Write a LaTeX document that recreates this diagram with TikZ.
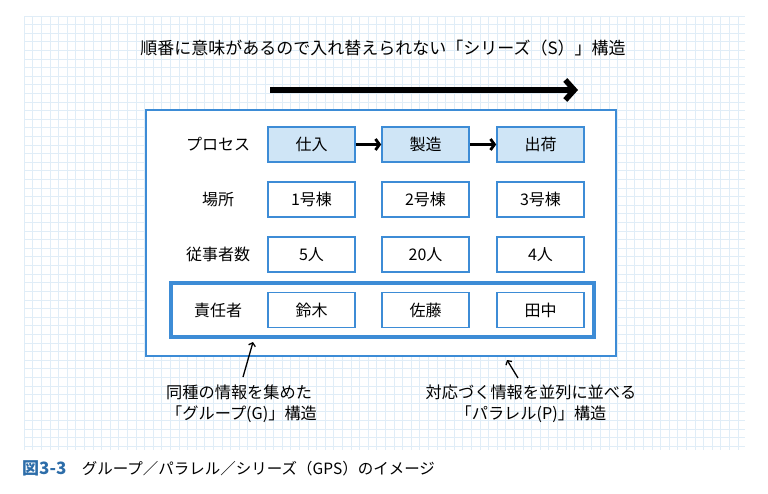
\documentclass[tikz,border=0pt]{standalone}
\usepackage{fontspec}
\setmainfont{Noto Sans CJK JP}
\usetikzlibrary{arrows.meta, positioning, calc}

\definecolor{gridblue}{HTML}{E0EDF7}
\definecolor{boxblue}{HTML}{3D8CD6}
\definecolor{cellfill}{HTML}{CFE5F6}
\definecolor{capblue}{HTML}{2D6DA9}

\tikzset{
  cell/.style={draw=boxblue, line width=1.6, fill=white, minimum width=87,
    minimum height=35, inner sep=0pt, font=\fontsize{16}{18}\selectfont},
  proc/.style={cell, fill=cellfill},
  rowlabel/.style={inner sep=0pt, font=\fontsize{16}{18}\selectfont},
  note/.style={inner sep=0pt, font=\fontsize{16.2}{21}\selectfont},
  flow/.style={line width=2.8, -{Straight Barb[length=4, width=11]}},
  pointer/.style={line width=1.3, -{Straight Barb[length=3, width=7]}}
}

\begin{document}
\begin{tikzpicture}[x=1pt, y=-1pt]
\def\colA{311.5}
\def\colB{425.5}
\def\colC{540.5}
\def\labx{218}

\useasboundingbox (0,0) rectangle (768,494);

% background grid
\foreach \gx in {24,32.6,...,746} \draw[gridblue, line width=0.6] (\gx,16) -- (\gx,450);
\foreach \gy in {16,24.6,...,451} \draw[gridblue, line width=0.6] (24,\gy) -- (745,\gy);

\node[font=\fontsize{17}{20}\selectfont] (title) at (383,48)
  {順番に意味があるので入れ替えられない「シリーズ（S）」構造};

\coordinate (sstart) at (270,90);
\coordinate (send) at (578,90);
\draw[line width=6, -{Straight Barb[length=9, width=20, line width=5.5]}] (sstart) -- (send);

\node[draw=boxblue, line width=2, fill=white, minimum width=470, minimum height=246] (table) at (381,233) {};
\node[draw=boxblue, line width=4.5, minimum width=423, minimum height=54] (group) at (382.5,310) {};

% rows
\node[rowlabel] (lproc) at (\labx,144.5) {プロセス};
\node[proc] (p1) at (\colA,144.5) {仕入};
\node[proc] (p2) at (\colB,144.5) {製造};
\node[proc] (p3) at (\colC,144.5) {出荷};
\draw[flow] (p1) -- (p2);
\draw[flow] (p2) -- (p3);

\node[rowlabel] (lplace) at (\labx,199.5) {場所};
\node[cell] (b1) at (\colA,199.5) {1号棟};
\node[cell] (b2) at (\colB,199.5) {2号棟};
\node[cell] (b3) at (\colC,199.5) {3号棟};

\node[rowlabel] (lstaff) at (\labx,254.5) {従事者数};
\node[cell] (n1) at (\colA,254.5) {5人};
\node[cell] (n2) at (\colB,254.5) {20人};
\node[cell] (n3) at (\colC,254.5) {4人};

\node[rowlabel] (lmgr) at (\labx,310) {責任者};
\node[cell] (m1) at (\colA,310) {鈴木};
\node[cell] (m2) at (\colB,310) {佐藤};
\node[cell] (m3) at (\colC,310) {田中};

% notes
\node[note, align=left, anchor=north west] (gnote) at (166,385)
  {同種の情報を集めた\\「グループ(G)」構造};
\node[note, align=center, anchor=north] (pnote) at (531,385)
  {対応づく情報を並列に並べる\\「パラレル(P)」構造};
\coordinate (gtail) at (243,377);
\coordinate (gtip) at (253,342);
\coordinate (ptail) at (518,378);
\coordinate (ptip) at (507,360);
\draw[pointer] (gtail) -- (gtip);
\draw[pointer] (ptail) -- (ptip);

\node[anchor=west, inner sep=0pt, font=\fontsize{15.5}{17}\selectfont] (caption) at (22,468)
  {{\fontsize{17}{18}\selectfont\bfseries\color{capblue}図3-3}\quad グループ／パラレル／シリーズ（GPS）のイメージ};
\end{tikzpicture}
\end{document}
